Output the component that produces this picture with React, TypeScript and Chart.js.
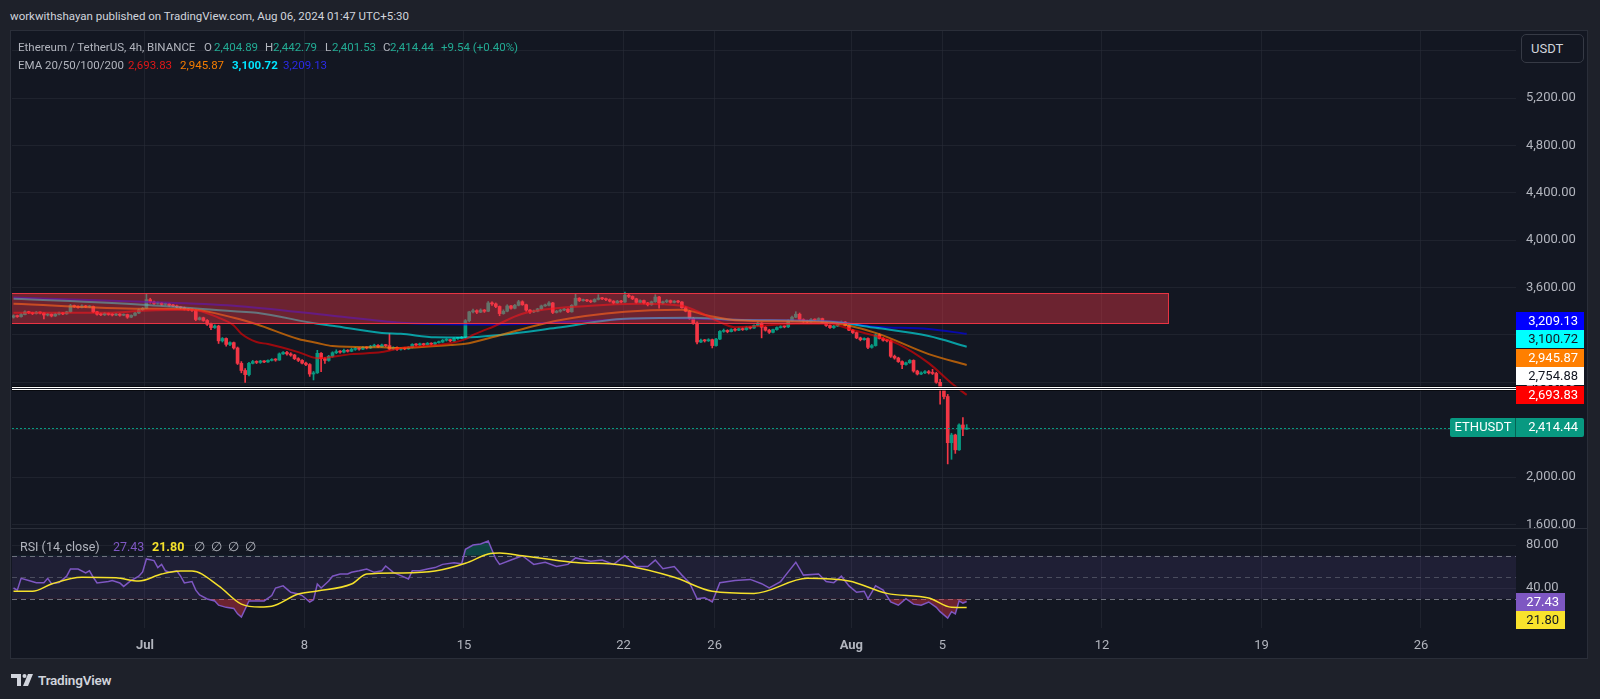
import React, { useEffect, useRef } from 'react';
import { Chart, registerables } from 'chart.js';

Chart.register(...registerables);

// ---------------- data ----------------
const publishedText = 'workwithshayan published on TradingView.com, Aug 06, 2024 01:47 UTC+5:30';
const symbolTitle = 'Ethereum / TetherUS, 4h, BINANCE';
const lastOHLC = { o: 2404.89, h: 2442.79, l: 2401.53, c: 2414.44 };
const changeText = '+9.54 (+0.40%)';
const emaTitle = 'EMA 20/50/100/200';
const emaLast = [2693.83, 2945.87, 3100.72, 3209.13];
const rsiTitle = 'RSI (14, close)';
const rsiLast = 27.43;
const rsiMaLast = 21.8;
const symbolTag = 'ETHUSDT';
const currencyLabel = 'USDT';

// time: days from Jul 1 00:00 (UTC+5:30); first candle Jun 25 05:30, 4h candles
const firstCandleDay = -5 - 18.5 / 24;
const candleStepDay = 4 / 24;
const tickDays = [0, 7, 14, 21, 25, 31, 35, 42, 49, 56];
const tickLabels = ['Jul', '8', '15', '22', '26', 'Aug', '5', '12', '19', '26'];
const monthTickDays = [0, 31];

const opens = [
  3350, 3362, 3355, 3372, 3395, 3388, 3380, 3392, 3385, 3368, 3375, 3360,
  3376, 3385, 3378, 3395, 3448, 3440, 3432, 3445, 3436, 3440, 3395, 3375,
  3370, 3382, 3373, 3368, 3376, 3366, 3372, 3350, 3365, 3385, 3412, 3425,
  3498, 3478, 3466, 3470, 3458, 3462, 3450, 3445, 3436, 3430, 3418, 3412,
  3408, 3330, 3345, 3322, 3290, 3262, 3275, 3150, 3170, 3120, 3135, 3090,
  2960, 2900, 2865, 2960, 2975, 2968, 2980, 2972, 2985, 2992, 2988, 3040,
  3052, 3040, 3030, 3000, 2985, 2962, 2950, 2870, 2880, 3045, 3000, 2985,
  3020, 3050, 3060, 3055, 3070, 3062, 3078, 3085, 3080, 3095, 3090, 3105,
  3112, 3100, 3115, 3110, 3080, 3095, 3078, 3090, 3082, 3096, 3120, 3115,
  3125, 3118, 3130, 3122, 3135, 3140, 3155, 3160, 3150, 3170, 3172, 3180,
  3320, 3395, 3405, 3392, 3410, 3400, 3470, 3462, 3440, 3380, 3400, 3445,
  3425, 3450, 3480, 3455, 3410, 3395, 3400, 3420, 3445, 3450, 3470, 3390,
  3400, 3410, 3418, 3395, 3450, 3510, 3490, 3495, 3488, 3480, 3500, 3512,
  3505, 3498, 3485, 3470, 3485, 3478, 3535, 3525, 3505, 3475, 3490, 3470,
  3455, 3480, 3520, 3470, 3480, 3490, 3475, 3485, 3478, 3430, 3400, 3340,
  3300, 3140, 3155, 3150, 3160, 3110, 3165, 3230, 3238, 3228, 3245, 3240,
  3252, 3245, 3262, 3258, 3280, 3300, 3265, 3240, 3222, 3245, 3262, 3270,
  3268, 3320, 3350, 3375, 3330, 3318, 3310, 3330, 3325, 3338, 3305, 3280,
  3262, 3275, 3300, 3310, 3280, 3240, 3220, 3175, 3160, 3170, 3095, 3110,
  3200, 3170, 3155, 3150, 3020, 3005, 2975, 2950, 2965, 2985, 2895, 2870,
  2880, 2890, 2880, 2875, 2800, 2745, 2680, 2290, 2355, 2230, 2440, 2404.89,
];
const closes = [
  3362, 3355, 3372, 3395, 3388, 3380, 3392, 3385, 3368, 3375, 3360, 3376,
  3385, 3378, 3395, 3448, 3440, 3432, 3445, 3436, 3440, 3395, 3375, 3370,
  3382, 3373, 3368, 3376, 3366, 3372, 3350, 3365, 3385, 3412, 3425, 3498,
  3478, 3466, 3470, 3458, 3462, 3450, 3445, 3436, 3430, 3418, 3412, 3408,
  3330, 3345, 3322, 3290, 3262, 3275, 3150, 3170, 3120, 3135, 3090, 2960,
  2900, 2865, 2960, 2975, 2968, 2980, 2972, 2985, 2992, 2988, 3040, 3052,
  3040, 3030, 3000, 2985, 2962, 2950, 2870, 2880, 3045, 3000, 2985, 3020,
  3050, 3060, 3055, 3070, 3062, 3078, 3085, 3080, 3095, 3090, 3105, 3112,
  3100, 3115, 3110, 3080, 3095, 3078, 3090, 3082, 3096, 3120, 3115, 3125,
  3118, 3130, 3122, 3135, 3140, 3155, 3160, 3150, 3170, 3172, 3180, 3320,
  3395, 3405, 3392, 3410, 3400, 3470, 3462, 3440, 3380, 3400, 3445, 3425,
  3450, 3480, 3455, 3410, 3395, 3400, 3420, 3445, 3450, 3470, 3390, 3400,
  3410, 3418, 3395, 3450, 3510, 3490, 3495, 3488, 3480, 3500, 3512, 3505,
  3498, 3485, 3470, 3485, 3478, 3535, 3525, 3505, 3475, 3490, 3470, 3455,
  3480, 3520, 3470, 3480, 3490, 3475, 3485, 3478, 3430, 3400, 3340, 3300,
  3140, 3155, 3150, 3160, 3110, 3165, 3230, 3238, 3228, 3245, 3240, 3252,
  3245, 3262, 3258, 3280, 3300, 3265, 3240, 3222, 3245, 3262, 3270, 3268,
  3320, 3350, 3375, 3330, 3318, 3310, 3330, 3325, 3338, 3305, 3280, 3262,
  3275, 3300, 3310, 3280, 3240, 3220, 3175, 3160, 3170, 3095, 3110, 3200,
  3170, 3155, 3150, 3020, 3005, 2975, 2950, 2965, 2985, 2895, 2870, 2880,
  2890, 2880, 2875, 2800, 2745, 2680, 2290, 2355, 2230, 2440, 2404.89, 2414.44,
];
const highs = [
  3370, 3368, 3380, 3404, 3400, 3392, 3398, 3396, 3388, 3382, 3378, 3384,
  3392, 3390, 3400, 3458, 3452, 3446, 3455, 3450, 3448, 3444, 3400, 3384,
  3388, 3386, 3380, 3382, 3380, 3378, 3376, 3370, 3390, 3420, 3432, 3545,
  3510, 3485, 3478, 3475, 3470, 3468, 3458, 3452, 3442, 3436, 3425, 3420,
  3415, 3352, 3350, 3330, 3300, 3285, 3282, 3178, 3175, 3142, 3140, 3098,
  2975, 2915, 2968, 2985, 2982, 2986, 2984, 2990, 3000, 3000, 3048, 3060,
  3062, 3050, 3036, 3008, 2992, 2970, 2958, 2892, 3070, 3052, 3008, 3028,
  3058, 3075, 3068, 3080, 3076, 3088, 3094, 3092, 3102, 3100, 3112, 3122,
  3118, 3122, 3120, 3210, 3100, 3100, 3095, 3096, 3102, 3126, 3126, 3132,
  3130, 3136, 3134, 3140, 3148, 3162, 3168, 3164, 3176, 3180, 3188, 3330,
  3400, 3418, 3412, 3420, 3415, 3482, 3480, 3470, 3445, 3412, 3455, 3450,
  3458, 3492, 3488, 3460, 3415, 3410, 3425, 3452, 3460, 3482, 3475, 3408,
  3416, 3425, 3422, 3456, 3545, 3515, 3502, 3500, 3495, 3506, 3540, 3518,
  3512, 3504, 3490, 3492, 3492, 3562, 3542, 3530, 3510, 3496, 3495, 3475,
  3486, 3540, 3525, 3485, 3498, 3495, 3490, 3492, 3482, 3438, 3408, 3348,
  3310, 3165, 3162, 3168, 3165, 3172, 3236, 3250, 3244, 3252, 3255, 3260,
  3260, 3270, 3268, 3286, 3308, 3304, 3270, 3248, 3250, 3268, 3278, 3276,
  3328, 3360, 3396, 3385, 3336, 3325, 3338, 3336, 3345, 3342, 3310, 3285,
  3282, 3306, 3318, 3315, 3285, 3246, 3225, 3182, 3176, 3175, 3120, 3208,
  3210, 3178, 3162, 3158, 3030, 3012, 2982, 2970, 2992, 2990, 2902, 2888,
  2898, 2900, 2910, 2885, 2826, 2755, 2698, 2370, 2362, 2450, 2502, 2442.79,
];
const lows = [
  3342, 3348, 3350, 3368, 3380, 3372, 3376, 3378, 3336, 3360, 3352, 3356,
  3370, 3372, 3374, 3390, 3432, 3425, 3428, 3430, 3430, 3388, 3366, 3362,
  3364, 3366, 3360, 3362, 3358, 3362, 3340, 3345, 3360, 3380, 3405, 3420,
  3468, 3458, 3460, 3450, 3452, 3442, 3438, 3428, 3420, 3410, 3404, 3398,
  3320, 3325, 3315, 3280, 3245, 3255, 3128, 3140, 3105, 3110, 3080, 2950,
  2880, 2800, 2855, 2955, 2958, 2960, 2965, 2968, 2980, 2978, 2985, 3035,
  3030, 3020, 2992, 2975, 2955, 2940, 2850, 2820, 2875, 2890, 2960, 2978,
  3012, 3042, 3045, 3048, 3055, 3058, 3070, 3072, 3076, 3082, 3085, 3098,
  3094, 3096, 3102, 3074, 3075, 3070, 3072, 3075, 3078, 3090, 3108, 3110,
  3110, 3114, 3116, 3118, 3130, 3136, 3148, 3142, 3146, 3162, 3168, 3175,
  3310, 3385, 3380, 3388, 3390, 3396, 3450, 3430, 3362, 3375, 3395, 3418,
  3420, 3445, 3450, 3400, 3382, 3388, 3395, 3415, 3440, 3445, 3380, 3385,
  3392, 3404, 3388, 3392, 3445, 3482, 3484, 3480, 3472, 3476, 3495, 3498,
  3490, 3478, 3462, 3465, 3470, 3474, 3515, 3498, 3468, 3470, 3462, 3445,
  3450, 3475, 3425, 3462, 3472, 3468, 3470, 3470, 3425, 3395, 3330, 3290,
  3125, 3135, 3140, 3145, 3090, 3105, 3160, 3222, 3218, 3225, 3232, 3235,
  3238, 3240, 3250, 3255, 3276, 3175, 3232, 3212, 3218, 3240, 3258, 3260,
  3262, 3315, 3345, 3322, 3305, 3300, 3306, 3318, 3320, 3298, 3272, 3255,
  3255, 3270, 3295, 3275, 3235, 3212, 3168, 3150, 3155, 3085, 3088, 3105,
  3165, 3148, 3140, 3010, 2995, 2968, 2915, 2945, 2960, 2885, 2862, 2865,
  2872, 2870, 2866, 2792, 2615, 2660, 2111, 2150, 2200, 2225, 2350, 2401.53,
];

// EMA samples (candle index -> value)
const ema20Idx = [0, 25, 34, 47, 54, 58, 60, 64, 67, 75, 80, 89, 97, 102, 115, 119, 121, 124, 126, 134, 152, 165, 176, 180, 187, 190, 206, 215, 220, 227, 233, 241, 247, 251];
const ema20Val = [3387, 3387, 3404, 3413, 3345, 3280, 3210, 3140, 3123, 3055, 3004, 3038, 3055, 3089, 3130, 3165, 3200, 3240, 3265, 3379, 3447, 3464, 3447, 3400, 3294, 3265, 3294, 3294, 3251, 3191, 3123, 2962, 2792, 2693.83];
const ema50Idx = [0, 34, 47, 58, 64, 75, 80, 84, 97, 102, 115, 119, 126, 143, 161, 176, 183, 190, 215, 227, 241, 251];
const ema50Val = [3464, 3421, 3415, 3345, 3290, 3166, 3132, 3106, 3095, 3089, 3115, 3125, 3180, 3320, 3396, 3413, 3362, 3325, 3302, 3217, 3038, 2945.87];
const ema100Idx = [0, 34, 58, 64, 80, 84, 97, 102, 111, 119, 128, 143, 161, 178, 190, 215, 227, 241, 251];
const ema100Val = [3506, 3455, 3400, 3387, 3294, 3277, 3217, 3210, 3180, 3178, 3200, 3260, 3336, 3345, 3328, 3311, 3260, 3191, 3100.72];
const ema200Idx = [0, 34, 58, 84, 102, 119, 128, 152, 170, 190, 215, 227, 241, 251];
const ema200Val = [3515, 3481, 3447, 3362, 3302, 3288, 3288, 3319, 3342, 3328, 3315, 3270, 3250, 3209.13];

// RSI samples (candle index -> value)
const rsiIdx = [0, 1, 2, 4, 6, 8, 9, 10, 12, 14, 15, 17, 19, 20, 21, 22, 25, 26, 28, 29, 31, 33, 34, 35, 37, 38, 39, 40, 41, 43, 44, 45, 47, 48, 49, 51, 53, 54, 56, 58, 59, 60, 62, 64, 66, 68, 69, 71, 72, 73, 75, 76, 77, 78, 79, 80, 81, 83, 84, 86, 88, 89, 91, 93, 95, 97, 98, 100, 102, 104, 105, 107, 109, 111, 113, 116, 118, 119, 121, 123, 125, 127, 128, 131, 134, 137, 140, 143, 146, 148, 152, 155, 158, 161, 164, 167, 169, 171, 174, 176, 178, 180, 182, 184, 186, 190, 194, 197, 199, 202, 204, 206, 208, 212, 214, 216, 218, 220, 222, 224, 225, 227, 229, 231, 233, 235, 237, 239, 241, 243, 244, 246, 247, 248, 249, 250, 251];
const rsiVal = [40, 38, 49, 47, 45, 45, 49, 44, 45, 51, 57.7, 57.7, 54, 56, 50, 44.7, 46, 47, 44.7, 41.5, 47, 51, 55, 67, 65.5, 59, 62, 56, 54.6, 56, 51, 44.7, 46, 38, 33.5, 29.8, 28, 24, 22, 21, 16, 13, 28, 28, 28, 33, 40, 42, 39, 36, 34.4, 33, 30, 27, 29, 43.7, 40, 46.5, 51, 53, 53, 54.6, 56, 57.7, 54.6, 56, 60.5, 54.6, 51.5, 48.4, 56, 56, 57.7, 59, 62, 63.5, 62.5, 76, 80, 81, 83.7, 67, 62, 66, 70, 62, 64, 60, 62, 68, 65, 66, 62, 70, 60, 60, 66, 58, 60, 52, 45, 30, 31, 27, 45, 47, 48, 44, 40, 46, 55, 64, 52, 53, 46, 45, 51, 42, 36, 37, 30, 42, 38, 27, 24, 30, 25, 24, 27, 22, 18, 12, 18, 16, 28, 26, 27.43];
const rsiMaIdx = [0, 5, 10, 18, 27, 33, 39, 44, 47, 54, 60, 65, 68, 75, 80, 89, 93, 102, 111, 119, 125, 128, 134, 147, 161, 174, 184, 195, 209, 220, 230, 241, 247, 251];
const rsiMaVal = [37, 37, 43.7, 50, 49.5, 46.5, 53, 55.8, 55.8, 42, 25, 22.3, 23, 34.4, 37.2, 43.7, 53, 54, 55.8, 63, 71.6, 72.5, 70, 64, 61, 50, 37, 35, 49, 46.5, 35, 30.7, 22, 21.8];
const rsiBands = [70, 50, 30];

// drawings
const zoneTop = 3550;
const zoneBottom = 3294;
const zoneStartDay = -12;
const zoneEndDay = 44.9;
const levelPrice = 2754.88;

// ---------------- styles ----------------
const FONT = 'Roboto, "Noto Sans", sans-serif';
const OUTER_BG = '#1e212a';
const CHART_BG = '#131722';
const GRID = 'rgba(42,46,57,0.55)';
const BORDER = '#2a2e39';
const TEXT = '#b2b5be';
const UP = '#089981';
const DOWN = '#f23645';
const X_MIN = -5.837;
const X_MAX = 60.17;
const PRICE_MIN = 1570;
const PRICE_MAX = 5766;
const RSI_MIN = 2.8;
const RSI_MAX = 94.9;

const candleDay = (i: number) => firstCandleDay + i * candleStepDay;
const fmt = (v: number) =>
  v.toLocaleString('en-US', { minimumFractionDigits: 2, maximumFractionDigits: 2 });
const pts = (idx: number[], val: number[]) => idx.map((k, i) => ({ x: candleDay(k), y: val[i] }));

const xTickCallback = (v: any) => {
  const i = tickDays.indexOf(v);
  return i >= 0 ? tickLabels[i] : '';
};

const noPad = (s: any) => {
  s.paddingTop = 0;
  s.paddingBottom = 0;
  s.paddingLeft = 0;
  s.paddingRight = 0;
};

function drawTag(ctx: CanvasRenderingContext2D, x: number, yc: number, w: number, h: number, bg: string, fg: string, text: string, textRight: number) {
  ctx.fillStyle = bg;
  ctx.fillRect(x, Math.round(yc - h / 2), w, h);
  ctx.fillStyle = fg;
  ctx.font = `13px ${FONT}`;
  ctx.textAlign = 'right';
  ctx.textBaseline = 'middle';
  ctx.fillText(text, textRight, Math.round(yc - h / 2) + h / 2 + 0.5);
}

const priceOverlay = {
  id: 'priceOverlay',
  afterDatasetsDraw(chart: any) {
    const { ctx, chartArea: a, scales } = chart;
    const x = scales.x;
    const y = scales.y;
    ctx.save();
    ctx.beginPath();
    ctx.rect(a.left, a.top, a.right - a.left, a.bottom - a.top);
    ctx.clip();
    // zone
    const x1 = x.getPixelForValue(zoneStartDay);
    const x2 = x.getPixelForValue(zoneEndDay);
    const y1 = y.getPixelForValue(zoneTop);
    const y2 = y.getPixelForValue(zoneBottom);
    ctx.fillStyle = 'rgba(242,54,69,0.4)';
    ctx.fillRect(x1, y1, x2 - x1, y2 - y1);
    ctx.strokeStyle = 'rgba(242,54,69,0.95)';
    ctx.lineWidth = 1;
    ctx.strokeRect(Math.round(x1) + 0.5, Math.round(y1) + 0.5, Math.round(x2 - x1), Math.round(y2 - y1));
    // horizontal level
    const ly = Math.round(y.getPixelForValue(levelPrice));
    const w = a.right - a.left;
    ctx.fillStyle = 'rgba(0,0,0,0.55)';
    ctx.fillRect(a.left, ly - 2, w, 5);
    ctx.fillStyle = '#ffffff';
    ctx.fillRect(a.left, ly - 1, w, 3);
    ctx.fillStyle = '#1a1d27';
    ctx.fillRect(a.left, ly, w, 1);
    // current price dotted line
    const cy = Math.round(y.getPixelForValue(lastOHLC.c)) + 0.5;
    ctx.strokeStyle = UP;
    ctx.setLineDash([2, 2]);
    ctx.beginPath();
    ctx.moveTo(a.left, cy);
    ctx.lineTo(a.right, cy);
    ctx.stroke();
    ctx.restore();
  },
  afterDraw(chart: any) {
    const { ctx, chartArea: a, scales } = chart;
    const y = scales.y;
    ctx.save();
    const H = 18.5;
    const tags = [
      { v: emaLast[3], bg: '#0000ff', fg: '#ffffff' },
      { v: emaLast[2], bg: '#00ffff', fg: '#131722' },
      { v: emaLast[1], bg: '#ff7f00', fg: '#ffffff' },
      { v: levelPrice, bg: '#ffffff', fg: '#131722' },
      { v: emaLast[0], bg: '#ff0000', fg: '#ffffff' },
    ].map((t) => ({ ...t, y: y.getPixelForValue(t.v) }));
    tags.sort((p, q) => p.y - q.y);
    for (let i = tags.length - 2; i >= 0; i--) {
      if (tags[i].y > tags[i + 1].y - H) tags[i].y = tags[i + 1].y - H;
    }
    tags.forEach((t) => drawTag(ctx, a.right, t.y, 68, 18, t.bg, t.fg, fmt(t.v), a.right + 62));
    // symbol + last price
    const cy = y.getPixelForValue(lastOHLC.c);
    const top = Math.round(cy - 9.5);
    ctx.fillStyle = UP;
    ctx.beginPath();
    (ctx as any).roundRect(a.right - 66, top, 66 + 68, 19, 2);
    ctx.fill();
    ctx.fillStyle = 'rgba(0,0,0,0.35)';
    ctx.fillRect(a.right - 1, top, 1, 19);
    ctx.fillStyle = '#ffffff';
    ctx.font = `13px ${FONT}`;
    ctx.textBaseline = 'middle';
    ctx.textAlign = 'center';
    ctx.fillText(symbolTag, a.right - 33, top + 10);
    ctx.textAlign = 'right';
    ctx.fillText(fmt(lastOHLC.c), a.right + 62, top + 10);
    ctx.restore();
  },
};

const rsiOverlay = {
  id: 'rsiOverlay',
  beforeDatasetsDraw(chart: any) {
    const { ctx, chartArea: a, scales } = chart;
    const y = scales.y;
    ctx.save();
    const yTop = y.getPixelForValue(rsiBands[0]);
    const yBot = y.getPixelForValue(rsiBands[2]);
    ctx.fillStyle = 'rgba(126,87,194,0.12)';
    ctx.fillRect(a.left, yTop, a.right - a.left, yBot - yTop);
    ctx.setLineDash([5, 4]);
    ctx.lineWidth = 1;
    rsiBands.forEach((b, i) => {
      const yy = Math.round(y.getPixelForValue(b)) + 0.5;
      ctx.strokeStyle = i === 1 ? 'rgba(120,123,134,0.5)' : 'rgba(120,123,134,0.9)';
      ctx.beginPath();
      ctx.moveTo(a.left, yy);
      ctx.lineTo(a.right, yy);
      ctx.stroke();
    });
    ctx.restore();
  },
  afterDraw(chart: any) {
    const { ctx, chartArea: a, scales } = chart;
    const y = scales.y;
    ctx.save();
    const H = 18;
    const y1 = y.getPixelForValue(rsiLast);
    let y2 = y.getPixelForValue(rsiMaLast);
    if (y2 < y1 + H) y2 = y1 + H;
    drawTag(ctx, a.right, y1, 49, H, '#7e57c2', '#ffffff', rsiLast.toFixed(2), a.right + 43);
    drawTag(ctx, a.right, y2, 49, H, '#f9e22c', '#131722', rsiMaLast.toFixed(2), a.right + 43);
    ctx.restore();
  },
};

function priceConfig(): any {
  const n = closes.length;
  const colors = closes.map((c, i) => (c >= opens[i] ? UP : DOWN));
  const wicks = Array.from({ length: n }, (_, i) => ({ x: candleDay(i), y: [lows[i], highs[i]] }));
  const bodies = Array.from({ length: n }, (_, i) => ({ x: candleDay(i), y: [opens[i], closes[i]] }));
  const line = (data: any[], color: string, order: number) => ({
    type: 'line',
    data,
    borderColor: color,
    borderWidth: 2,
    pointRadius: 0,
    tension: 0.4,
    cubicInterpolationMode: 'monotone',
    fill: false,
    order,
  });
  return {
    type: 'bar',
    data: {
      datasets: [
        { type: 'bar', data: wicks, backgroundColor: colors, barThickness: 1, grouped: false, order: 11 },
        { type: 'bar', data: bodies, backgroundColor: colors, barThickness: 3, grouped: false, minBarLength: 1, order: 10 },
        line(pts(ema200Idx, ema200Val), 'rgba(0,0,255,0.62)', 4),
        line(pts(ema100Idx, ema100Val), 'rgba(0,255,255,0.58)', 3),
        line(pts(ema50Idx, ema50Val), 'rgba(255,127,0,0.65)', 2),
        line(pts(ema20Idx, ema20Val), 'rgba(255,0,0,0.58)', 1),
      ],
    },
    options: {
      responsive: false,
      animation: false,
      devicePixelRatio: 1,
      layout: { padding: 0, autoPadding: false },
      plugins: { legend: { display: false }, tooltip: { enabled: false } },
      scales: {
        x: {
          type: 'linear',
          min: X_MIN,
          max: X_MAX,
          offset: false,
          afterBuildTicks: (s: any) => {
            s.ticks = tickDays.map((v) => ({ value: v }));
          },
          afterFit: (s: any) => {
            s.height = 0;
            noPad(s);
          },
          grid: { color: GRID, drawTicks: false, offset: false },
          border: { display: false },
          ticks: { display: false },
        },
        y: {
          type: 'linear',
          position: 'right',
          min: PRICE_MIN,
          max: PRICE_MAX,
          afterFit: (s: any) => {
            s.width = 72;
            noPad(s);
          },
          grid: { color: GRID, drawTicks: false },
          border: { display: false },
          ticks: {
            stepSize: 400,
            includeBounds: false,
            padding: 10,
            color: TEXT,
            font: { family: FONT, size: 13 },
            callback: (v: any) => fmt(v),
          },
        },
      },
    },
    plugins: [priceOverlay],
  };
}

function rsiConfig(): any {
  const rsiPts = pts(rsiIdx, rsiVal);
  return {
    type: 'line',
    data: {
      datasets: [
        {
          data: rsiPts,
          borderColor: 'transparent',
          borderWidth: 0,
          pointRadius: 0,
          fill: { target: { value: rsiBands[0] }, above: 'rgba(8,153,129,0.35)', below: 'transparent' },
          order: 3,
        },
        {
          data: rsiPts,
          borderColor: '#7e57c2',
          borderWidth: 1.5,
          pointRadius: 0,
          tension: 0,
          fill: { target: { value: rsiBands[2] }, above: 'transparent', below: 'rgba(242,54,69,0.4)' },
          order: 2,
        },
        {
          data: pts(rsiMaIdx, rsiMaVal),
          borderColor: '#f5e12b',
          borderWidth: 1.5,
          pointRadius: 0,
          tension: 0.4,
          cubicInterpolationMode: 'monotone',
          fill: false,
          order: 1,
        },
      ],
    },
    options: {
      responsive: false,
      animation: false,
      devicePixelRatio: 1,
      layout: { padding: 0, autoPadding: false },
      plugins: { legend: { display: false }, tooltip: { enabled: false } },
      scales: {
        x: {
          type: 'linear',
          min: X_MIN,
          max: X_MAX,
          offset: false,
          afterBuildTicks: (s: any) => {
            s.ticks = tickDays.map((v) => ({ value: v }));
          },
          afterFit: (s: any) => {
            s.height = 32;
            noPad(s);
          },
          grid: { color: GRID, drawTicks: false, offset: false },
          border: { display: false },
          ticks: {
            autoSkip: false,
            maxRotation: 0,
            padding: 10,
            color: TEXT,
            font: (c: any) => ({
              family: FONT,
              size: 13,
              weight: c.tick && monthTickDays.includes(c.tick.value) ? 'bold' : 'normal',
            }),
            callback: xTickCallback,
          },
        },
        y: {
          type: 'linear',
          position: 'right',
          min: RSI_MIN,
          max: RSI_MAX,
          afterBuildTicks: (s: any) => {
            s.ticks = [40, 80].map((v) => ({ value: v }));
          },
          afterFit: (s: any) => {
            s.width = 72;
            noPad(s);
          },
          grid: { color: GRID, drawTicks: false },
          border: { display: false },
          ticks: {
            padding: 10,
            color: TEXT,
            font: { family: FONT, size: 13 },
            callback: (v: any) => Number(v).toFixed(2),
          },
        },
      },
    },
    plugins: [rsiOverlay],
  };
}

const abs = (left: number, top: number, extra: any = {}): React.CSSProperties => ({
  position: 'absolute',
  left,
  top,
  whiteSpace: 'nowrap',
  lineHeight: '16px',
  ...extra,
});

export default function App() {
  const priceRef = useRef<HTMLCanvasElement>(null);
  const rsiRef = useRef<HTMLCanvasElement>(null);

  useEffect(() => {
    const pc = new Chart(priceRef.current as HTMLCanvasElement, priceConfig());
    const rc = new Chart(rsiRef.current as HTMLCanvasElement, rsiConfig());
    return () => {
      pc.destroy();
      rc.destroy();
    };
  }, []);

  const lg = { fontSize: 11.5, color: TEXT };
  const val = { fontSize: 11.5, color: '#22ab94' };

  return (
    <div
      style={{
        position: 'fixed',
        left: 0,
        top: 0,
        width: 1600,
        height: 699,
        background: OUTER_BG,
        overflow: 'hidden',
        fontFamily: FONT,
      }}
    >
      <div style={abs(10, 8, { fontSize: 11.5, color: '#d1d4dc' })}>{publishedText}</div>
      <div
        style={{
          position: 'absolute',
          left: 10,
          top: 30,
          width: 1578,
          height: 629,
          background: CHART_BG,
          border: `1px solid ${BORDER}`,
          boxSizing: 'border-box',
        }}
      />
      <div style={{ position: 'absolute', left: 10, top: 528, width: 1578, height: 1, background: BORDER }} />
      <canvas
        ref={priceRef}
        width={1576}
        height={497}
        style={{ position: 'absolute', left: 12, top: 31, width: 1576, height: 497 }}
      />
      <canvas
        ref={rsiRef}
        width={1576}
        height={131}
        style={{ position: 'absolute', left: 12, top: 529, width: 1576, height: 131 }}
      />

      {/* legend line 1 */}
      <div style={abs(18, 39, lg)}>{symbolTitle}</div>
      <div style={abs(204, 39, lg)}>O</div>
      <div style={abs(214, 39, val)}>{fmt(lastOHLC.o)}</div>
      <div style={abs(265, 39, lg)}>H</div>
      <div style={abs(273, 39, val)}>{fmt(lastOHLC.h)}</div>
      <div style={abs(325, 39, lg)}>L</div>
      <div style={abs(332, 39, val)}>{fmt(lastOHLC.l)}</div>
      <div style={abs(383, 39, lg)}>C</div>
      <div style={abs(390, 39, val)}>{fmt(lastOHLC.c)}</div>
      <div style={abs(441, 39, val)}>{changeText}</div>

      {/* legend line 2 */}
      <div style={abs(18, 57, lg)}>{emaTitle}</div>
      <div style={abs(128, 57, { fontSize: 11.5, color: '#e01818' })}>{fmt(emaLast[0])}</div>
      <div style={abs(180, 57, { fontSize: 11.5, color: '#f57c00' })}>{fmt(emaLast[1])}</div>
      <div style={abs(232, 57, { fontSize: 11.5, color: '#00e5ff', fontWeight: 'bold' })}>{fmt(emaLast[2])}</div>
      <div style={abs(283, 57, { fontSize: 11.5, color: '#2a2ae8' })}>{fmt(emaLast[3])}</div>

      {/* RSI legend */}
      <div style={abs(20, 539, { fontSize: 12.5, color: TEXT })}>{rsiTitle}</div>
      <div style={abs(113, 539, { fontSize: 12.5, color: '#7e57c2' })}>{rsiLast.toFixed(2)}</div>
      <div style={abs(152, 539, { fontSize: 12.5, color: '#f5e12b', fontWeight: 'bold' })}>{rsiMaLast.toFixed(2)}</div>
      {[194, 211, 228, 245].map((l) => (
        <div key={l} style={abs(l, 539, { fontSize: 12.5, color: TEXT })}>
          ∅
        </div>
      ))}

      {/* currency button */}
      <div
        style={{
          position: 'absolute',
          left: 1521,
          top: 34,
          width: 63,
          height: 29,
          boxSizing: 'border-box',
          border: '1px solid #363a45',
          borderRadius: 5,
          background: CHART_BG,
          color: '#d1d4dc',
          fontSize: 13,
          lineHeight: '27px',
          paddingLeft: 9,
        }}
      >
        {currencyLabel}
      </div>

      {/* logo */}
      <div style={abs(11, 672, { display: 'flex', alignItems: 'center', gap: 3 })}>
        <svg width="24" height="14" viewBox="0 0 24 14">
          <path d="M0 1h10v12h-4v-8h-6z" fill="#d1d4dc" />
          <circle cx="13.5" cy="3" r="2" fill="#d1d4dc" />
          <path d="M17 1h5l-5 12h-5z" fill="#d1d4dc" />
        </svg>
        <span style={{ fontSize: 13.5, fontWeight: 600, color: '#d1d4dc', letterSpacing: -0.2 }}>TradingView</span>
      </div>
    </div>
  );
}
